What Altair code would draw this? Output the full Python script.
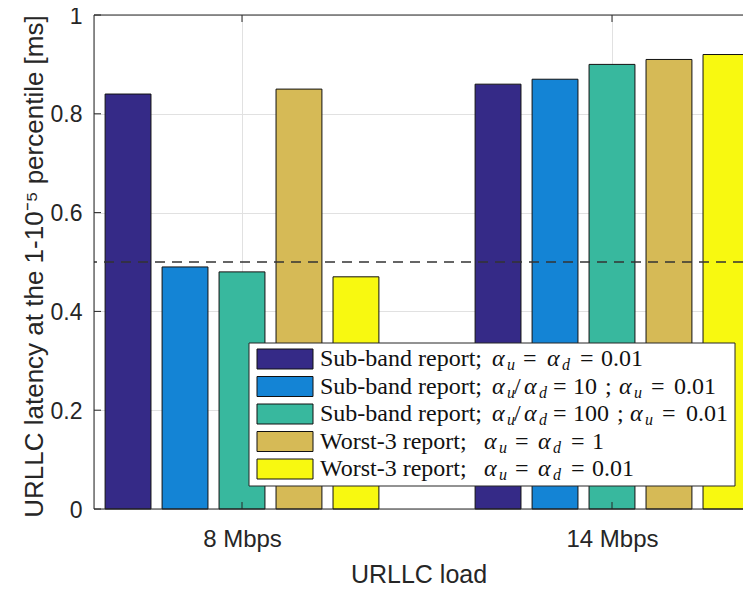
import altair as alt
import pandas as pd

# ---------------- data ----------------
loads = ["8 Mbps", "14 Mbps"]
series = [
    "Sub-band report; αu = αd = 0.01",
    "Sub-band report; αu/αd = 10 ; αu = 0.01",
    "Sub-band report; αu/αd = 100 ; αu = 0.01",
    "Worst-3 report; αu = αd = 1",
    "Worst-3 report; αu = αd = 0.01",
]
latency_8 = [0.84, 0.49, 0.48, 0.85, 0.47]
latency_14 = [0.86, 0.87, 0.90, 0.91, 0.92]
colors = ["#352A87", "#1484D5", "#38B89E", "#D6BA56", "#F8F910"]
y_ticks = [0, 0.2, 0.4, 0.6, 0.8, 1]
threshold = 0.5

rows = []
for gi, (load, vals) in enumerate(zip(loads, [latency_8, latency_14]), start=1):
    for si, (s, v) in enumerate(zip(series, vals)):
        rows.append({"load": load, "g": gi, "s": si, "series": s, "yv": v})
df = pd.DataFrame(rows)

# ---------------- layout ----------------
W, H = 649, 494          # plot area runs to the right edge of the page
X0, Y0 = 94, 15          # page position of the plot origin
UNIT = 370.0             # px per category step
XMIN = 0.6
xscale = alt.Scale(domain=[XMIN, XMIN + W / UNIT], nice=False, zero=False)
yscale = alt.Scale(domain=[0, 1], nice=False, zero=False)
cscale = alt.Scale(domain=series, range=colors)
SANS = "Liberation Sans"
SERIF = "Liberation Serif"
AX = "#262626"


def px2x(px):
    return XMIN + (px - X0) / UNIT


def py2y(py):
    return 1 - (py - Y0) / H


label_expr = " : ".join(
    [f"datum.value == {i + 1} ? '{l}'" for i, l in enumerate(loads[:-1])] + [f"'{loads[-1]}'"]
)

bars = alt.Chart(df).transform_calculate(
    xc="datum.g + (datum.s - 2) * 0.154"
).transform_calculate(
    xv="datum.xc - 0.062", xv2="datum.xc + 0.062"
).mark_bar(stroke="#111", strokeWidth=1).encode(
    x=alt.X("xv:Q", scale=xscale, axis=alt.Axis(
        values=[1, 2], labelExpr=label_expr, grid=True, gridColor="#e1e1e1",
        ticks=False, tickSize=0, domain=False, labelFont=SANS, labelFontSize=24,
        labelColor=AX, labelBaseline="alphabetic", labelPadding=37,
        title="URLLC load", titleFont=SANS, titleFontSize=25, titleFontWeight="normal",
        titleColor=AX, titleBaseline="alphabetic", titleY=73)),
    x2="xv2:Q",
    y=alt.Y("yv:Q", scale=yscale, axis=alt.Axis(
        values=y_ticks, grid=True, gridColor="#e1e1e1", ticks=False, tickSize=0,
        domain=False, labelFont=SANS, labelFontSize=23, labelColor=AX, labelPadding=12,
        labelOffset=1,
        labelExpr="datum.value == 0 ? '0' : datum.value == 1 ? '1' : format(datum.value, '.1f')",
        title="URLLC latency at the 1-10⁻⁵ percentile [ms]", titleFont=SANS,
        titleFontSize=26, titleFontWeight="normal", titleColor=AX,
        titleBaseline="alphabetic", titleX=-52, titleY=251, titleAngle=-90)),
    y2=alt.datum(0),
    color=alt.Color("series:N", scale=cscale, legend=None),
)

rule = alt.Chart(pd.DataFrame({"yv": [threshold]})).mark_rule(
    color="#333333", strokeDash=[10, 7], strokeWidth=1.5
).encode(y=alt.Y("yv:Q", scale=yscale))

# axes box (left, top, bottom; the right side lies beyond the picture)
frame_left = alt.Chart(pd.DataFrame({"a": [0]})).mark_rule(color=AX, strokeWidth=1).encode(
    x=alt.value(0), y=alt.value(0), y2=alt.value(H))
frame_top = alt.Chart(pd.DataFrame({"a": [0]})).mark_rule(color=AX, strokeWidth=1).encode(
    x=alt.value(0), x2=alt.value(W), y=alt.value(0))
frame_bottom = alt.Chart(pd.DataFrame({"a": [0]})).mark_rule(color=AX, strokeWidth=1).encode(
    x=alt.value(0), x2=alt.value(W), y=alt.value(H))

# inward ticks (MATLAB style)
left_ticks = alt.Chart(pd.DataFrame({"yv": y_ticks})).mark_rule(color=AX, strokeWidth=1).encode(
    y=alt.Y("yv:Q", scale=yscale), x=alt.value(0), x2=alt.value(7))
xt = pd.DataFrame({"xv": [1, 2]})
bottom_ticks = alt.Chart(xt).mark_rule(color=AX, strokeWidth=1).encode(
    x=alt.X("xv:Q", scale=xscale), y=alt.value(H), y2=alt.value(H - 7))
top_ticks = alt.Chart(xt).mark_rule(color=AX, strokeWidth=1).encode(
    x=alt.X("xv:Q", scale=xscale), y=alt.value(0), y2=alt.value(7))

# ---------------- legend (drawn by hand to allow subscripts) ----------------
box = pd.DataFrame({"xv": [px2x(249)], "xv2": [px2x(735)], "yv": [py2y(343)], "yv2": [py2y(486)]})
leg_box = alt.Chart(box).mark_rect(fill="white", stroke=AX, strokeWidth=1).encode(
    x=alt.X("xv:Q", scale=xscale), x2="xv2:Q",
    y=alt.Y("yv:Q", scale=yscale), y2="yv2:Q")

ROW_BASE = [366, 393.5, 421, 448.5, 476]
sw = pd.DataFrame({
    "series": series,
    "xv": [px2x(257)] * 5, "xv2": [px2x(313)] * 5,
    "yv": [py2y(b - 17) for b in ROW_BASE], "yv2": [py2y(b + 3) for b in ROW_BASE],
})
swatches = alt.Chart(sw).mark_rect(stroke="#111", strokeWidth=1).encode(
    x=alt.X("xv:Q", scale=xscale), x2="xv2:Q",
    y=alt.Y("yv:Q", scale=yscale), y2="yv2:Q",
    color=alt.Color("series:N", scale=cscale, legend=None),
)

# segments: (page x, text, kind)  kind: t=text, a=italic alpha, s=subscript
LEG_SEGS = [
    [(320, "Sub-band report;", "t"), (492, "α", "a"), (507, "u", "s"), (523, "=", "t"),
     (547, "α", "a"), (562, "d", "s"), (580, "=", "t"), (601, "0.01", "t")],
    [(320, "Sub-band report;", "t"), (492, "α", "a"), (507, "u", "s"), (514, "/", "t"),
     (524, "α", "a"), (539, "d", "s"), (553, "=", "t"), (573, "10", "t"), (605, ";", "t"),
     (619, "α", "a"), (634, "u", "s"), (651, "=", "t"), (674, "0.01", "t")],
    [(320, "Sub-band report;", "t"), (492, "α", "a"), (507, "u", "s"), (514, "/", "t"),
     (524, "α", "a"), (539, "d", "s"), (553, "=", "t"), (573, "100", "t"), (617, ";", "t"),
     (630, "α", "a"), (645, "u", "s"), (662, "=", "t"), (686, "0.01", "t")],
    [(320, "Worst-3 report;", "t"), (484, "α", "a"), (499, "u", "s"), (515, "=", "t"),
     (538, "α", "a"), (553, "d", "s"), (571, "=", "t"), (592, "1", "t")],
    [(320, "Worst-3 report;", "t"), (484, "α", "a"), (499, "u", "s"), (515, "=", "t"),
     (538, "α", "a"), (553, "d", "s"), (571, "=", "t"), (592, "0.01", "t")],
]
seg_rows = []
for base, segs in zip(ROW_BASE, LEG_SEGS):
    for px, txt, kind in segs:
        seg_rows.append({"xv": px2x(px), "yv": py2y(base + (4 if kind == "s" else 0)),
                         "txt": txt, "kind": kind})
segdf = pd.DataFrame(seg_rows)


def seg_layer(kind, size, style):
    return alt.Chart(segdf).transform_filter(f"datum.kind == '{kind}'").mark_text(
        align="left", baseline="alphabetic", font=SERIF, fontSize=size,
        fontStyle=style, color="#111"
    ).encode(x=alt.X("xv:Q", scale=xscale), y=alt.Y("yv:Q", scale=yscale), text="txt:N")


leg_text = seg_layer("t", 24, "normal")
leg_alpha = seg_layer("a", 24, "italic")
leg_sub = seg_layer("s", 16, "italic")

chart = alt.layer(
    bars, rule, frame_left, frame_top, frame_bottom, left_ticks, bottom_ticks, top_ticks,
    leg_box, swatches, leg_text, leg_alpha, leg_sub
).properties(
    width=W, height=H, autosize=alt.AutoSizeParams(type="none"),
    padding={"left": X0 - 8, "top": Y0 - 8, "right": 0, "bottom": 591 - 8 - 8 - (Y0 - 8) - H},
).configure_view(stroke=None, strokeWidth=0).configure(background="white")

chart.save("out.html", embed_options={"renderer": "svg", "actions": False})
